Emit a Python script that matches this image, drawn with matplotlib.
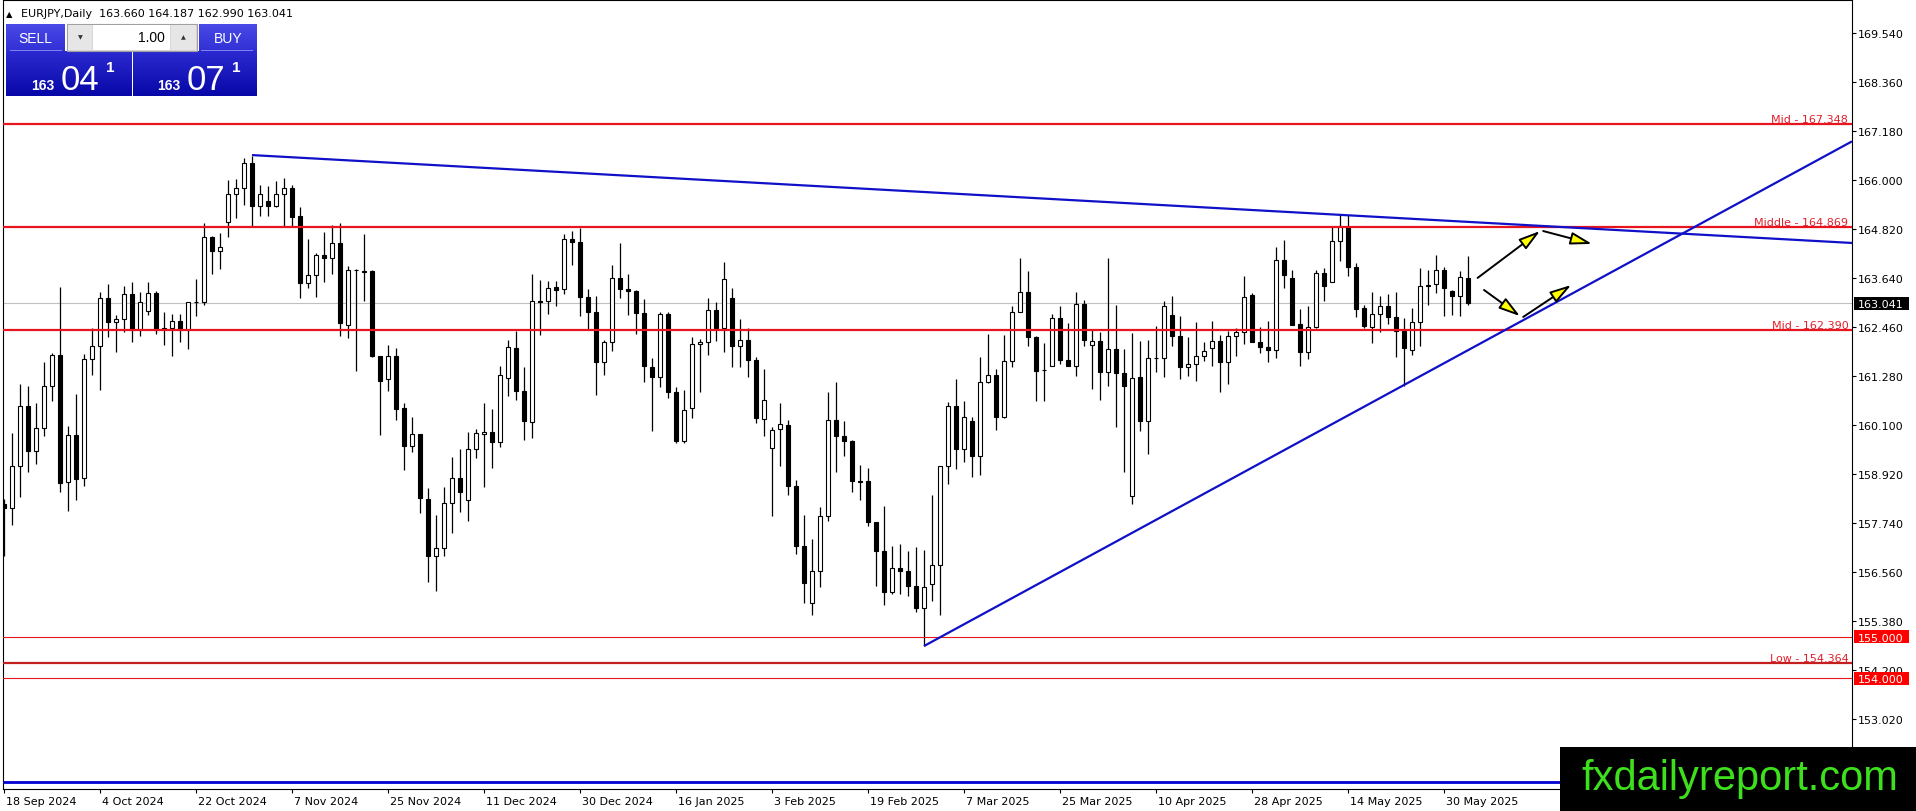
import matplotlib
matplotlib.use("Agg")
import matplotlib.pyplot as plt
from matplotlib.patches import Rectangle
from matplotlib.colors import LinearSegmentedColormap
import matplotlib.transforms as mtransforms
import numpy as np

plt.rcParams['font.family'] = ['DejaVu Sans']

W, H, DPI = 1916, 812, 100

# daily EURJPY candles, one value per bar
opens = [158.20, 158.11, 159.12, 160.56, 159.48, 160.03, 161.05, 161.79, 158.73, 159.87,
         158.83, 161.70, 162.01, 163.17, 162.59, 162.66, 163.26, 162.40, 162.85, 163.29,
         162.44, 162.44, 162.61, 162.40, 163.07, 163.06, 164.64, 164.30, 165.00, 165.67,
         165.82, 166.42, 165.38, 165.50, 165.38, 165.67, 165.82, 165.14, 163.53, 163.72,
         164.20, 164.13, 164.49, 162.52, 163.84, 163.82, 163.82, 161.77, 161.21, 161.77,
         160.51, 159.60, 159.89, 158.32, 156.95, 157.14, 158.23, 158.83, 158.30, 159.53,
         159.89, 159.94, 159.70, 161.24, 161.96, 160.93, 160.18, 163.09, 163.09, 163.43,
         163.38, 164.59, 164.52, 163.19, 162.83, 161.62, 162.11, 163.65, 163.38, 163.34,
         162.81, 161.50, 161.26, 162.78, 160.90, 159.72, 160.51, 162.06, 162.11, 162.88,
         162.44, 163.17, 162.01, 162.15, 161.67, 160.25, 159.55, 160.01, 160.11, 158.64,
         157.19, 155.82, 156.59, 157.91, 160.23, 159.84, 159.72, 158.76, 158.76, 157.77,
         157.07, 156.08, 156.66, 156.59, 156.23, 155.70, 156.28, 156.73, 159.12, 160.56,
         159.53, 160.20, 159.36, 161.14, 161.31, 160.30, 161.65, 162.83, 163.31, 162.23,
         161.43, 161.53, 162.68, 161.67, 161.53, 163.02, 162.03, 162.13, 161.38, 161.94,
         161.36, 158.40, 161.26, 160.20, 161.72, 161.72, 162.76, 162.25, 161.50, 161.58,
         161.77, 161.96, 162.13, 161.62, 162.25, 162.35, 163.24, 162.11, 161.99, 161.91,
         164.08, 163.65, 162.54, 161.87, 162.47, 163.77, 163.55, 164.54, 164.88, 163.91,
         162.92, 162.47, 162.78, 162.97, 162.71, 162.37, 161.91, 162.59, 163.46, 163.50,
         163.84, 163.34, 163.21, 163.660]
highs = [158.32, 159.91, 161.09, 161.05, 160.64, 161.62, 161.84, 163.43, 160.08, 160.85,
         161.82, 162.44, 163.31, 163.50, 162.76, 163.46, 163.55, 163.31, 163.55, 163.34,
         162.83, 162.78, 162.78, 163.08, 163.62, 164.97, 164.66, 164.73, 166.01, 166.03,
         166.54, 166.59, 165.89, 165.86, 165.99, 166.06, 165.89, 165.36, 164.59, 164.25,
         164.76, 164.93, 164.97, 163.94, 163.87, 164.71, 163.83, 161.78, 162.03, 161.96,
         160.64, 160.30, 159.89, 158.59, 157.94, 158.61, 159.34, 159.53, 159.94, 160.01,
         160.64, 160.49, 161.53, 162.15, 162.37, 161.50, 163.75, 163.60, 163.58, 163.58,
         164.71, 164.78, 164.85, 163.38, 163.21, 162.15, 163.96, 164.49, 163.75, 163.36,
         163.14, 161.72, 162.83, 162.83, 161.02, 160.95, 162.23, 162.18, 163.17, 163.07,
         164.03, 163.41, 162.66, 162.44, 161.74, 161.45, 160.06, 160.64, 160.23, 158.78,
         157.94, 157.36, 158.13, 160.90, 161.14, 160.20, 159.74, 159.14, 159.07, 157.77,
         158.15, 157.19, 157.24, 157.07, 157.17, 157.09, 158.42, 159.12, 160.66, 161.21,
         160.69, 160.30, 161.74, 162.30, 161.46, 162.27, 162.97, 164.13, 163.82, 162.25,
         162.08, 162.78, 162.97, 162.56, 163.31, 163.12, 162.42, 162.35, 164.13, 163.00,
         161.94, 162.32, 162.13, 162.15, 162.49, 163.09, 163.21, 162.73, 162.23, 162.59,
         162.11, 162.61, 162.27, 162.37, 162.44, 163.70, 163.29, 162.47, 162.61, 164.39,
         164.56, 163.84, 162.90, 162.97, 163.84, 163.89, 164.88, 165.17, 165.17, 164.01,
         163.00, 163.31, 163.21, 163.26, 163.31, 162.68, 162.93, 163.89, 163.84, 164.20,
         163.91, 163.36, 163.82, 164.187]
lows = [156.95, 157.70, 158.37, 158.97, 159.17, 159.84, 160.69, 158.49, 158.03, 158.30,
        158.64, 161.31, 160.95, 162.23, 161.87, 162.35, 162.11, 162.25, 162.76, 162.30,
        162.03, 161.77, 162.11, 161.94, 162.73, 163.00, 163.75, 163.87, 164.64, 165.09,
        165.41, 164.90, 165.14, 165.14, 165.36, 164.90, 164.90, 163.17, 163.41, 163.19,
        163.55, 163.75, 162.25, 162.20, 161.41, 163.09, 161.75, 159.87, 160.93, 160.23,
        159.02, 159.46, 157.99, 156.32, 156.11, 156.95, 157.50, 158.01, 157.79, 159.31,
        158.61, 159.07, 159.58, 160.80, 160.71, 159.75, 159.79, 162.27, 162.78, 162.97,
        163.26, 163.96, 162.73, 162.42, 160.83, 161.31, 161.89, 163.17, 162.76, 162.30,
        161.14, 159.96, 161.02, 160.76, 159.67, 159.67, 160.28, 160.90, 161.79, 162.13,
        161.87, 161.50, 161.50, 161.26, 160.15, 159.84, 157.91, 159.12, 158.42, 157.00,
        155.82, 155.53, 156.20, 157.79, 158.97, 159.36, 158.49, 158.30, 157.67, 156.23,
        155.77, 156.03, 156.03, 155.99, 155.60, 154.78, 155.87, 155.53, 158.68, 159.05,
        159.22, 158.85, 158.90, 161.12, 159.99, 160.28, 161.50, 162.82, 162.01, 160.69,
        160.69, 161.53, 161.58, 161.53, 161.29, 162.01, 160.97, 160.71, 161.05, 160.06,
        158.97, 158.20, 159.96, 159.41, 161.38, 161.26, 162.01, 161.21, 161.29, 161.17,
        161.65, 161.53, 160.90, 161.09, 161.77, 162.06, 162.11, 161.84, 161.62, 161.72,
        163.41, 162.52, 161.53, 161.70, 162.44, 163.09, 163.55, 164.06, 163.70, 162.71,
        162.44, 162.08, 162.35, 162.54, 161.74, 161.05, 161.79, 162.01, 163.00, 163.29,
        162.73, 162.76, 162.73, 162.990]
closes = [158.11, 159.12, 160.56, 159.48, 160.03, 161.05, 161.79, 158.71, 159.87, 158.81,
          161.70, 162.01, 163.17, 162.59, 162.66, 163.26, 162.40, 163.07, 163.29, 162.40,
          162.42, 162.61, 162.40, 163.07, 163.06, 164.64, 164.30, 164.40, 165.67, 165.82,
          166.42, 165.38, 165.67, 165.38, 165.67, 165.82, 165.12, 163.53, 163.72, 164.20,
          164.13, 164.49, 162.56, 163.84, 163.83, 163.80, 161.77, 161.17, 161.77, 160.49,
          159.60, 159.89, 158.35, 156.95, 157.14, 158.23, 158.83, 158.49, 159.53, 159.91,
          159.94, 159.70, 161.31, 161.99, 160.93, 160.20, 163.09, 163.08, 163.41, 163.36,
          164.59, 164.52, 163.19, 162.83, 161.62, 162.11, 163.65, 163.38, 163.34, 162.81,
          161.53, 161.26, 162.78, 160.90, 159.72, 160.47, 162.06, 162.11, 162.88, 162.44,
          163.62, 162.01, 162.15, 161.67, 160.27, 160.71, 159.99, 160.13, 158.64, 157.19,
          156.30, 156.59, 157.91, 160.23, 159.84, 159.72, 158.76, 158.74, 157.77, 157.07,
          156.08, 156.66, 156.59, 156.23, 155.70, 156.20, 156.73, 159.12, 160.56, 159.53,
          160.30, 159.36, 161.14, 161.31, 160.30, 161.65, 162.83, 163.31, 162.23, 161.41,
          161.42, 162.68, 161.67, 161.53, 163.02, 162.15, 162.13, 161.38, 161.94, 161.36,
          161.05, 161.24, 160.20, 161.72, 161.71, 162.97, 162.25, 161.50, 161.58, 161.77,
          161.89, 162.13, 161.62, 162.25, 162.35, 163.19, 162.11, 161.99, 161.91, 164.08,
          163.72, 162.52, 161.87, 162.47, 163.77, 163.46, 164.54, 164.90, 163.91, 162.90,
          162.49, 162.78, 162.97, 162.71, 162.37, 161.96, 162.59, 163.46, 163.48, 163.84,
          163.41, 163.21, 163.67, 163.041]

date_labels = ['18 Sep 2024', '4 Oct 2024', '22 Oct 2024', '7 Nov 2024', '25 Nov 2024',
               '11 Dec 2024', '30 Dec 2024', '16 Jan 2025', '3 Feb 2025', '19 Feb 2025',
               '7 Mar 2025', '25 Mar 2025', '10 Apr 2025', '28 Apr 2025', '14 May 2025',
               '30 May 2025']
date_bars = list(range(0, 181, 12))
price_ticks = [169.540, 168.360, 167.180, 166.000, 164.820, 163.640, 162.460, 161.280,
               160.100, 158.920, 157.740, 156.560, 155.380, 154.200, 153.020]

# horizontal levels
level_prices = [167.348, 164.869, 162.390, 154.364]
level_names = ['Mid', 'Middle', 'Mid', 'Low']
round_prices = [155.000, 154.000]
bid_price = 163.041
floor_line = 151.50

# trend lines as (bar, price) anchors, drawn as rays to the right
down_anchor = [(31, 166.61), (167, 165.17)]
up_anchor = [(115, 154.78), (175, 161.07)]

# scenario arrows (start, end) in (bar, price)
arrows = [((184.2, 163.65), (192.0, 164.78)),
          ((192.4, 164.78), (198.5, 164.47)),
          ((185.0, 163.36), (189.5, 162.73)),
          ((189.9, 162.71), (195.9, 163.48))]

sym_text = 'EURJPY,Daily  163.660 164.187 162.990 163.041'

RED = '#e8141e'
BLUE = '#1010c8'

fig = plt.figure(figsize=(W / DPI, H / DPI), dpi=DPI)
ax = fig.add_axes([3 / W, (H - 790) / H, (1852 - 3) / W, (790 - 1) / H])
ax.set_xlim(-0.125, 231)
ax.set_ylim(151.335, 170.347)

# candles
x = np.arange(len(opens))
o = np.array(opens)
c = np.array(closes)
ax.vlines(x, lows, highs, color='black', lw=0.9, zorder=3)
body_bot = np.minimum(o, c)
body_h = np.maximum(np.abs(c - o), 0.004)
ax.bar(x, body_h, bottom=body_bot, width=0.55,
       color=np.where(c >= o, 'white', 'black'), edgecolor='black',
       linewidth=0.8, zorder=4)

# bid line
ax.axhline(bid_price, color='#c0c0c0', lw=0.8, zorder=2)

# levels
for p, name in zip(level_prices, level_names):
    col = '#c41e1e' if name == 'Low' else RED
    ax.axhline(p, color=col, lw=1.6, zorder=5)
    ax.text(0.998, p, f'{name} - {p:.3f}', transform=ax.get_yaxis_transform(),
            ha='right', va='bottom', fontsize=8, color='#e0202c', zorder=6)
for p in round_prices:
    ax.axhline(p, color=RED, lw=0.8, zorder=5)
ax.axhline(floor_line, color='#0000d0', lw=2.0, zorder=5)

# trend lines
x_end = ax.get_xlim()[1]
for (x1, y1), (x2, y2) in (down_anchor, up_anchor):
    k = (y2 - y1) / (x2 - x1)
    ax.plot([x1, x_end], [y1, y1 + k * (x_end - x1)], color=BLUE, lw=1.6,
            zorder=6, solid_capstyle='butt')

for start, end in arrows:
    ax.annotate('', xy=end, xytext=start,
                arrowprops=dict(arrowstyle='-|>,head_length=1.3,head_width=0.38',
                                fc='#ffff00', ec='black', lw=1.4,
                                shrinkA=0, shrinkB=0), zorder=7)

# axes styling
for s in ax.spines.values():
    s.set_color('black')
    s.set_linewidth(0.8)
ax.yaxis.tick_right()
ax.set_yticks(price_ticks, [f'{t:.3f}' for t in price_ticks])
ax.tick_params(axis='y', direction='out', length=3, width=0.8, pad=1.5,
               labelsize=8, colors='black')
ax.set_xticks(date_bars, date_labels)
ax.tick_params(axis='x', direction='out', length=3, width=0.8, pad=2,
               labelsize=8, colors='black')
offset = mtransforms.ScaledTranslation(1.5 / DPI, 0, fig.dpi_scale_trans)
for lab in ax.get_xticklabels():
    lab.set_ha('left')
    lab.set_transform(lab.get_transform() + offset)


def fx(px):
    return px / W


def fy(py):
    return 1 - py / H


def rect_px(x0, y0, x1, y1, **kw):
    r = Rectangle((fx(x0), fy(y1)), (x1 - x0) / W, (y1 - y0) / H,
                  transform=fig.transFigure, **kw)
    fig.add_artist(r)


def grad_px(x0, y0, x1, y1, top, bot):
    a = fig.add_axes([fx(x0), fy(y1), (x1 - x0) / W, (y1 - y0) / H])
    a.axis('off')
    cmap = LinearSegmentedColormap.from_list('g', [top, bot])
    a.imshow(np.linspace(0, 1, 64).reshape(-1, 1), aspect='auto', cmap=cmap,
             extent=(0, 1, 0, 1))
    a.set_zorder(5)


def price_py(p):
    return H - ax.transData.transform((0, p))[1]


# right axis price boxes
def price_box(p, fc):
    yc = price_py(p)
    rect_px(1854, yc - 6.5, 1909, yc + 6.5, fc=fc, ec='none', zorder=10)
    fig.text(fx(1858), fy(yc), f'{p:.3f}', color='white', fontsize=8,
             va='center_baseline', ha='left', zorder=11)


price_box(bid_price, 'black')
for p in round_prices:
    price_box(p, '#ff0000')

# header
fig.text(fx(6), fy(17), '▲', fontsize=6, color='black', va='baseline', zorder=11)
fig.text(fx(21), fy(17), sym_text, fontsize=8, color='black', va='baseline', zorder=11)

# one-click trading panel
grad_px(6, 25, 65, 52, '#4a4ae6', '#3030d6')
grad_px(199, 25, 257, 52, '#4a4ae6', '#3030d6')
grad_px(6, 52, 131, 97, '#2a2ad0', '#0808a8')
grad_px(133, 52, 257, 97, '#2a2ad0', '#0808a8')
rect_px(67, 25, 197, 52, fc='#d8d8d8', ec='#a0a0a0', lw=0.8, zorder=10)
rect_px(68, 26, 92, 51, fc='#e6e6e6', ec='none', zorder=10)
rect_px(93, 26, 170, 51, fc='white', ec='none', zorder=10)
rect_px(171, 26, 196, 51, fc='#e6e6e6', ec='none', zorder=10)
rect_px(10, 51, 62, 52, fc='#8080f0', ec='none', zorder=11)
rect_px(201, 51, 253, 52, fc='#8080f0', ec='none', zorder=11)
pf = ['Liberation Sans', 'DejaVu Sans']
fig.text(fx(35.5), fy(39), 'SELL', color='white', fontsize=10, family=pf,
         ha='center', va='center', zorder=12)
fig.text(fx(228), fy(39), 'BUY', color='white', fontsize=10, family=pf,
         ha='center', va='center', zorder=12)
fig.text(fx(165), fy(38.5), '1.00', color='black', fontsize=10, family=pf,
         ha='right', va='center', zorder=12)
fig.text(fx(80), fy(38), '▼', color='#333333', fontsize=4.5, ha='center',
         va='center', zorder=12)
fig.text(fx(183), fy(38), '▲', color='#333333', fontsize=4.5, ha='center',
         va='center', zorder=12)
for x0, big in ((31, '04'), (157, '07')):
    fig.text(fx(x0), fy(90), '163', color='white', fontsize=10, weight='bold',
             family=pf, va='baseline', zorder=12)
    fig.text(fx(x0 + 30), fy(90), big, color='white', fontsize=25, family=pf,
             va='baseline', zorder=12)
    fig.text(fx(x0 + 75), fy(72), '1', color='white', fontsize=11, weight='bold',
             family=pf, va='baseline', zorder=12)

# watermark
rect_px(1560, 748, 1916, 812, fc='black', ec='none', zorder=20)
fig.text(fx(1898), fy(790), 'fxdailyreport.com', color='#3ee01e', fontsize=30,
         family=pf, ha='right', va='baseline', zorder=21)

fig.savefig('out.png', dpi=DPI)
